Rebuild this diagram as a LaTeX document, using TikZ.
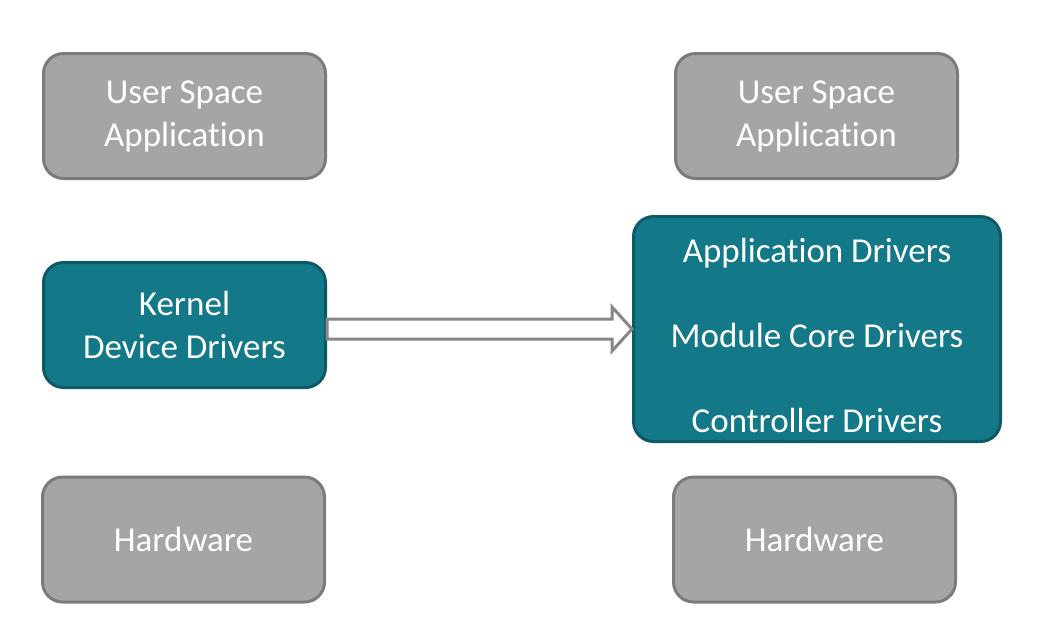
\documentclass[tikz,border=0pt]{standalone}
\usepackage{fontspec}
\setmainfont[Ligatures=NoCommon]{Carlito}
\definecolor{boxgray}{HTML}{A5A5A5}
\definecolor{edgegray}{HTML}{7B7B7B}
\definecolor{arrgray}{HTML}{878787}
\definecolor{tealfill}{HTML}{137887}
\definecolor{tealedge}{HTML}{0C5A66}
\tikzset{
  layerbox/.style={draw=edgegray, fill=boxgray, line width=3pt, rounded corners=20pt,
    minimum width=282pt, minimum height=125pt, text=white, align=center,
    font=\fontsize{35}{43}\selectfont},
  drvbox/.style={layerbox, draw=tealedge, fill=tealfill},
  drvtext/.style={text=white, anchor=base, font=\fontsize{35}{43}\selectfont},
  blockarrow/.style={draw=arrgray, fill=white, line width=3pt, line join=miter}
}
\begin{document}
\begin{tikzpicture}[x=1pt,y=-1pt]
\useasboundingbox (0,0) rectangle (1051,622);
% left stack
\node[layerbox] (usrL) at (184.5,116) {User Space\\Application};
\node[drvbox] (kernL) at (184.5,325) {Kernel\\Device Drivers};
\node[layerbox] (hwL) at (183.5,539.5) {Hardware};
% right stack
\node[layerbox] (usrR) at (816.5,116) {User Space\\Application};
\node[drvbox, minimum width=367pt, minimum height=225pt] (mod) at (817,329) {};
\node[drvtext] (appdrv) at ([yshift=67pt]mod.center) {Application Drivers};
\node[drvtext] (coredrv) at ([yshift=-18pt]mod.center) {Module Core Drivers};
\node[drvtext] (ctrldrv) at ([yshift=-103pt]mod.center) {Controller Drivers};
\node[layerbox] (hwR) at (814.5,539.5) {Hardware};
% outlined block arrow
\draw[blockarrow] (kernL.east |- mod.west) ++(0,-10) -- ++(285,0) -- ++(0,-12)
  -- (mod.west) -- ++(-20,22) -- ++(0,-12) -- ++(-285,0) -- cycle;
\end{tikzpicture}
\end{document}
